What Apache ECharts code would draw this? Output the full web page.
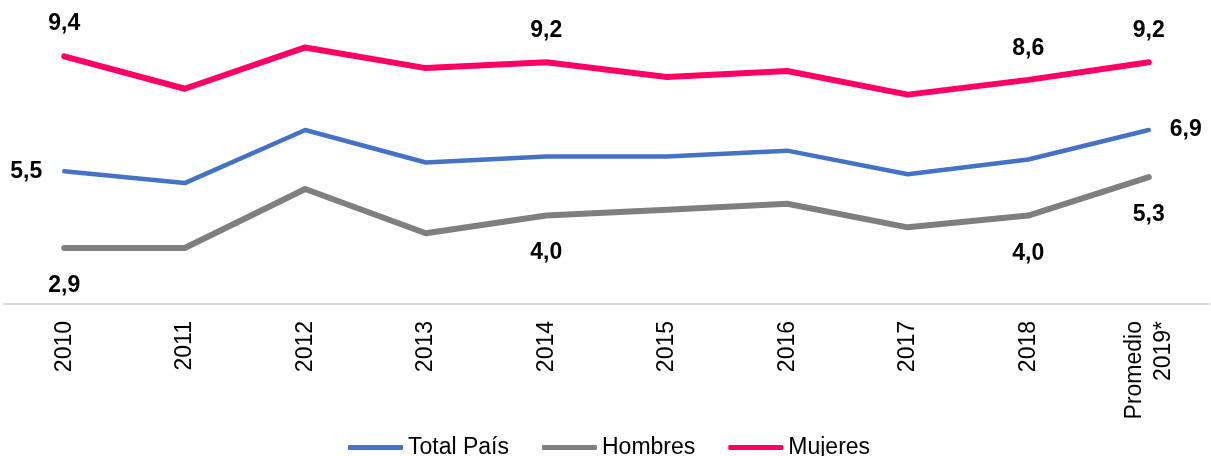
<!DOCTYPE html>
<html>
<head>
<meta charset="utf-8">
<script src="https://cdn.jsdelivr.net/npm/echarts@6/dist/echarts.min.js"></script>
<style>
html,body{margin:0;padding:0;background:#fff;}
#chart{width:1211px;height:456px;}
</style>
</head>
<body>
<div id="chart"></div>
<script>
const categories = ['2010','2011','2012','2013','2014','2015','2016','2017','2018','Promedio\n2019*'];
const totalPais = [5.5, 5.1, 6.9, 5.8, 6.0, 6.0, 6.2, 5.4, 5.9, 6.9];
const hombres   = [2.9, 2.9, 4.9, 3.4, 4.0, 4.2, 4.4, 3.6, 4.0, 5.3];
const mujeres   = [9.4, 8.3, 9.7, 9.0, 9.2, 8.7, 8.9, 8.1, 8.6, 9.2];
const seriesNames = ['Total País', 'Hombres', 'Mujeres'];

// which points carry a value label and where
const totalLabels = {0: ['left', 22], 9: ['right', 21]};
const hombresLabels = {0: ['bottom', 26], 4: ['bottom', 26], 8: ['bottom', 27], 9: ['bottom', 26]};
const mujeresLabels = {0: ['top', 21], 4: ['top', 20], 8: ['top', 20], 9: ['top', 20]};

const FONT = '"Liberation Sans", Arial, sans-serif';

function buildData(values, labels) {
  return values.map((v, i) => {
    if (labels[i]) {
      return {
        value: v,
        label: {
          show: true,
          position: labels[i][0],
          distance: labels[i][1],
          color: '#000',
          fontWeight: 'bold',
          fontSize: 23,
          fontFamily: FONT,
          formatter: p => p.value.toFixed(1).replace('.', ',')
        }
      };
    }
    return v;
  });
}

function makeSeries(name, values, labels, color, width) {
  return {
    name: name,
    type: 'line',
    data: buildData(values, labels),
    symbol: 'circle',
    symbolSize: 0.01,
    showSymbol: true,
    itemStyle: {color: color},
    lineStyle: {color: color, width: width, cap: 'round', join: 'round'},
    label: {show: false},
    emphasis: {disabled: true},
    animation: false,
    z: 3
  };
}

const chart = echarts.init(document.getElementById('chart'), null, {renderer: 'canvas'});
chart.setOption({
  backgroundColor: '#fff',
  animation: false,
  grid: {left: 4, right: 2, top: 38.6, bottom: 152, containLabel: false},
  legend: {
    data: seriesNames.map((n, i) => ({
      name: n,
      icon: 'roundRect',
      itemStyle: {color: ['#4472C4', '#7F7F7F', '#FF0066'][i], opacity: 1}
    })),
    left: 343,
    top: 431,
    itemWidth: 55,
    itemHeight: 5,
    itemGap: 33,
    textStyle: {fontSize: 23, color: '#000', fontFamily: FONT},
    selectedMode: false
  },
  xAxis: {
    type: 'category',
    data: categories,
    boundaryGap: true,
    axisLine: {show: true, lineStyle: {color: '#D9D9D9', width: 2}},
    axisTick: {show: false},
    axisLabel: {
      rotate: 90,
      interval: 0,
      margin: 17,
      fontSize: 23,
      lineHeight: 29,
      color: '#000',
      fontFamily: FONT
    }
  },
  yAxis: {
    type: 'value',
    min: 1,
    max: 10,
    show: false,
    splitLine: {show: false}
  },
  series: [
    makeSeries(seriesNames[0], totalPais, totalLabels, '#4472C4', 4.5),
    makeSeries(seriesNames[1], hombres, hombresLabels, '#7F7F7F', 6),
    makeSeries(seriesNames[2], mujeres, mujeresLabels, '#FF0066', 6)
  ]
});
</script>
</body>
</html>
